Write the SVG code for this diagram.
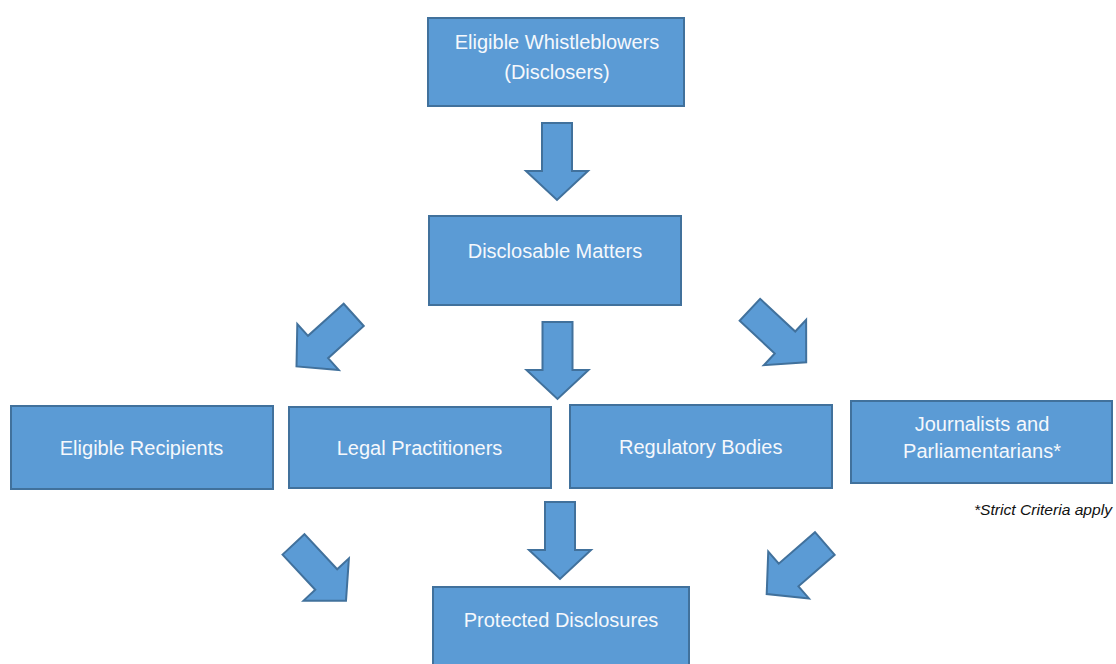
<svg xmlns="http://www.w3.org/2000/svg" width="1116" height="664" viewBox="0 0 1116 664">
  <style>
    .box { fill: #5b9bd5; stroke: #41719c; stroke-width: 2; }
    .lbl { font-family: "Liberation Sans", Arial, sans-serif; font-size: 20px; fill: #f5f8fc; text-anchor: middle; }
    .arrow { fill: #5b9bd5; stroke: #41719c; stroke-width: 2; stroke-linejoin: miter; }
    .note { font-family: "Liberation Sans", Arial, sans-serif; font-size: 14px; font-style: italic; fill: #111111; text-anchor: end; }
  </style>
  <defs>
    <!-- block arrow pointing down, apex at the origin -->
    <polygon id="blockArrow" points="-15,-77 15,-77 15,-29 31,-29 0,0 -31,-29 -15,-29"/>
  </defs>
  <rect width="1116" height="664" fill="#ffffff"/>

  <g id="connectors">
    <use href="#blockArrow" class="arrow" transform="translate(557,200)"/>
    <use href="#blockArrow" class="arrow" transform="translate(557.5,399)"/>
    <use href="#blockArrow" class="arrow" transform="translate(296.5,366.4) rotate(48)"/>
    <use href="#blockArrow" class="arrow" transform="translate(806.2,362.3) rotate(-47)"/>
    <use href="#blockArrow" class="arrow" transform="translate(346,600.7) rotate(-43)"/>
    <use href="#blockArrow" class="arrow" transform="translate(560,579)"/>
    <use href="#blockArrow" class="arrow" transform="translate(766.7,594) rotate(49)"/>
  </g>

  <g id="whistleblowers">
    <rect class="box" x="428" y="18" width="256" height="88"/>
    <text class="lbl" x="557" y="48.5">Eligible Whistleblowers</text>
    <text class="lbl" x="557" y="78.5">(Disclosers)</text>
  </g>

  <g id="disclosable-matters">
    <rect class="box" x="429" y="216" width="252" height="89"/>
    <text class="lbl" x="555" y="257.5">Disclosable Matters</text>
  </g>

  <g id="eligible-recipients">
    <rect class="box" x="11" y="406" width="262" height="83"/>
    <text class="lbl" x="141.5" y="454.5">Eligible Recipients</text>
  </g>

  <g id="legal-practitioners">
    <rect class="box" x="289" y="407" width="262" height="81"/>
    <text class="lbl" x="419.5" y="455">Legal Practitioners</text>
  </g>

  <g id="regulatory-bodies">
    <rect class="box" x="570" y="405" width="262" height="83"/>
    <text class="lbl" x="700.7" y="453.5">Regulatory Bodies</text>
  </g>

  <g id="journalists">
    <rect class="box" x="851" y="401" width="261" height="82"/>
    <text class="lbl" x="982" y="430.5">Journalists and</text>
    <text class="lbl" x="982" y="457.5">Parliamentarians*</text>
  </g>

  <text id="footnote" class="note" x="1112" y="515" textLength="138" lengthAdjust="spacingAndGlyphs">*Strict Criteria apply</text>

  <g id="protected-disclosures">
    <rect class="box" x="433" y="587" width="256" height="90"/>
    <text class="lbl" x="561" y="626.5">Protected Disclosures</text>
  </g>
</svg>
